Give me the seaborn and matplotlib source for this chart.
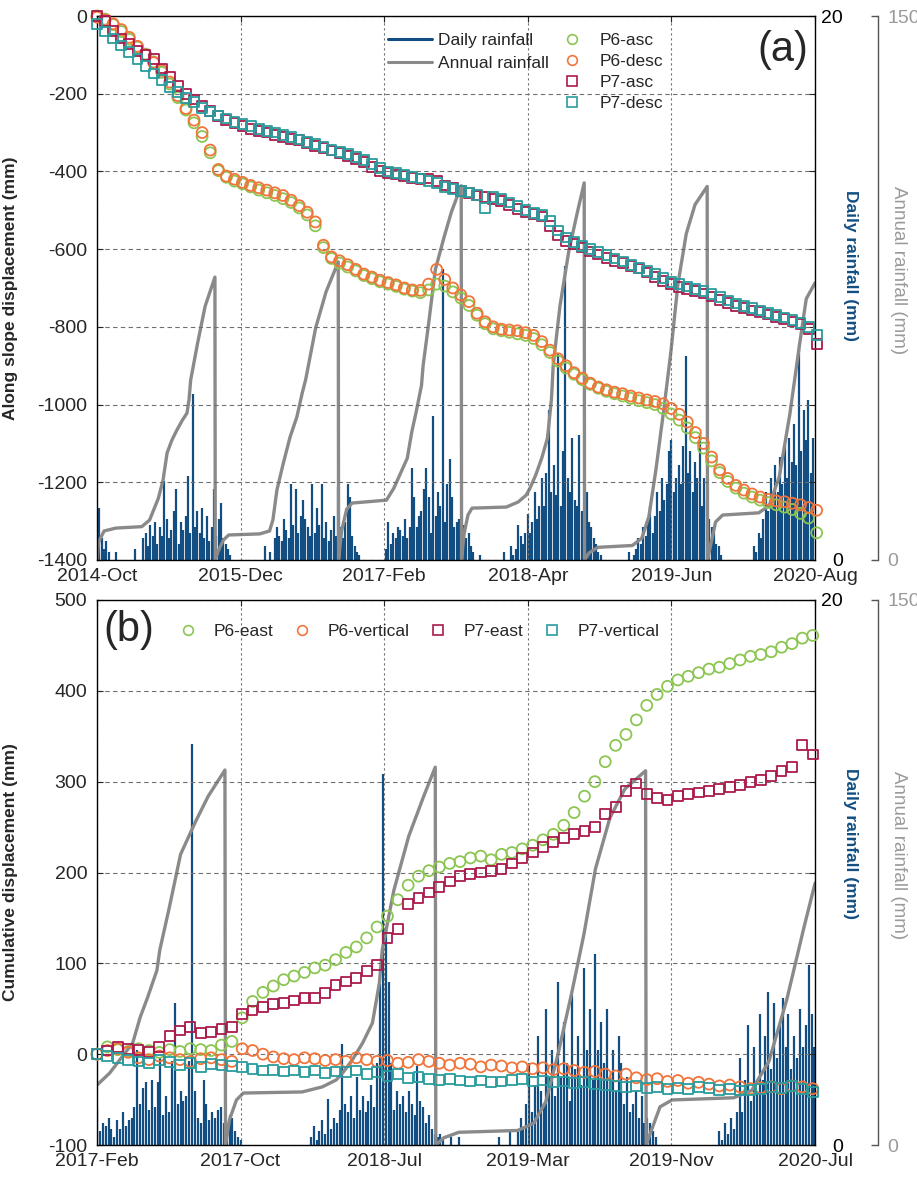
import numpy as np
import pandas as pd
import matplotlib
matplotlib.use("Agg")
import matplotlib.pyplot as plt
import matplotlib.dates as mdates
from matplotlib.lines import Line2D
import seaborn as sns

# ---------------------------------------------------------------- data
# (a) along-slope displacement (mm), InSAR epochs every 24 days
epochs_a = pd.date_range("2014-10-15", periods=90, freq="24D")
p6_asc = [0, -8, -22, -40, -60, -80, -98, -118, -145, -175,
          -210, -242, -275, -310, -352, -398, -415, -425, -432, -440,
          -448, -455, -462, -470, -480, -494, -512, -540, -596, -624,
          -636, -646, -656, -668, -676, -684, -690, -696, -703, -708,
          -712, -705, -690, -695, -710, -726, -745, -770, -792, -805,
          -810, -814, -818, -822, -830, -846, -866, -888, -906, -922,
          -936, -948, -958, -966, -972, -978, -984, -990, -995, -1000,
          -1010, -1024, -1040, -1060, -1085, -1112, -1145, -1175, -1198, -1215,
          -1228, -1238, -1246, -1252, -1258, -1264, -1270, -1280, -1292, -1330]
p6_desc = [-3, -10, -20, -35, -55, -78, -100, -120, -140, -170,
           -205, -238, -268, -300, -345, -395, -412, -420, -428, -436,
           -442, -448, -455, -462, -474, -488, -505, -530, -590, -620,
           -630, -640, -652, -664, -672, -680, -686, -692, -700, -705,
           -706, -690, -652, -678, -700, -718, -735, -765, -787, -800,
           -806, -808, -810, -815, -822, -838, -860, -882, -900, -918,
           -932, -945, -955, -962, -968, -972, -978, -983, -988, -992,
           -998, -1010, -1025, -1045, -1072, -1100, -1135, -1168, -1190, -1208,
           -1220, -1230, -1238, -1244, -1248, -1250, -1254, -1258, -1265, -1272]
p7_asc = [0, -12, -38, -58, -72, -90, -100, -110, -135, -158,
          -180, -200, -215, -232, -245, -258, -268, -276, -283, -290,
          -296, -300, -306, -312, -316, -320, -326, -334, -340, -346,
          -352, -360, -368, -376, -388, -398, -404, -408, -412, -416,
          -420, -418, -424, -436, -442, -450, -456, -462, -466, -470,
          -476, -486, -496, -504, -510, -516, -540, -565, -578, -586,
          -596, -606, -614, -622, -630, -636, -644, -650, -660, -672,
          -682, -690, -697, -702, -708, -714, -722, -730, -738, -746,
          -752, -758, -762, -768, -774, -780, -786, -792, -806, -845]
p7_desc = [-20, -40, -58, -76, -92, -110, -128, -148, -165, -182,
           -196, -210, -222, -236, -246, -256, -264, -272, -278, -284,
           -290, -296, -300, -306, -312, -318, -324, -330, -338, -344,
           -350, -356, -362, -370, -380, -392, -400, -404, -408, -414,
           -418, -424, -430, -440, -446, -450, -454, -460, -494, -466,
           -472, -480, -490, -500, -506, -512, -528, -552, -570, -582,
           -592, -600, -608, -616, -624, -632, -640, -648, -656, -664,
           -674, -684, -690, -696, -702, -708, -716, -724, -732, -740,
           -746, -752, -758, -764, -770, -776, -782, -790, -800, -822]

# (b) cumulative east / vertical displacement (mm), epochs every 18 days
epochs_b = pd.date_range("2017-02-20", periods=70, freq="18D")
p6_east = [0, 8, 5, 3, 6, 4, 2, 5, 3, 6,
           5, 4, 10, 14, 40, 58, 68, 75, 82, 86,
           90, 95, 98, 104, 112, 118, 128, 140, 152, 170,
           186, 196, 202, 206, 210, 212, 216, 218, 214, 220,
           222, 226, 230, 236, 242, 252, 266, 284, 300, 322,
           340, 352, 368, 384, 396, 405, 412, 416, 420, 424,
           426, 430, 434, 438, 440, 443, 448, 452, 458, 461]
p6_vert = [0, 4, 6, 2, -4, -6, -2, -4, -6, -8,
           -5, -4, -6, -8, 6, 4, 0, -3, -5, -6,
           -4, -5, -7, -6, -8, -4, -6, -8, -7, -10,
           -9, -6, -8, -10, -12, -10, -11, -14, -12, -13,
           -15, -14, -16, -15, -17, -16, -18, -20, -19, -22,
           -24, -22, -26, -28, -27, -30, -29, -32, -31, -33,
           -35, -34, -36, -38, -37, -36, -38, -35, -36, -38]
p7_east = [0, 4, 8, 6, 5, 2, 8, 20, 26, 30,
           23, 24, 28, 30, 44, 48, 52, 55, 56, 59,
           62, 62, 67, 76, 80, 84, 92, 98, 128, 138,
           165, 172, 178, 184, 190, 196, 198, 200, 202, 204,
           210, 216, 222, 228, 234, 238, 242, 246, 250, 264,
           272, 290, 298, 286, 282, 280, 284, 286, 288, 290,
           292, 294, 296, 300, 302, 306, 312, 316, 340, 330]
p7_vert = [0, -2, -4, -6, -8, -10, -6, -9, -12, -10,
           -14, -11, -12, -13, -14, -16, -18, -17, -19, -18,
           -20, -18, -21, -19, -20, -18, -22, -20, -24, -22,
           -26, -25, -27, -28, -27, -29, -30, -29, -31, -30,
           -28, -27, -30, -29, -31, -30, -32, -31, -33, -34,
           -35, -36, -35, -37, -36, -38, -37, -38, -36, -37,
           -39, -38, -40, -39, -38, -36, -37, -35, -38, -42]

# daily rainfall (mm): wet-season records as (first day, sampling step in days, values)
rain_a = [
    ("2014-10-15", 7, [1.7, 1.9, 0.8, 0.4, 0.7, 0.3, 0.0, 0.0, 0.3]),
    ("2015-02-05", 7, [0.4]),
    ("2015-03-01", 7, [0.8, 1.0, 0.5, 1.3, 0.9, 1.4, 0.6, 1.2, 0.9, 2.9,
                       1.5, 0.8, 1.1, 1.8, 2.6, 0.6, 1.4, 1.1, 1.6, 3.1,
                       1.0, 6.1, 1.2, 1.8, 1.0, 1.9, 0.8, 1.6, 0.7, 1.2,
                       2.6, 0.9, 1.5, 2.1, 0.8, 0.6, 0.4, 0.2]),
    ("2016-02-26", 7, [0.5, 0.0, 0.3, 0.0, 0.8, 1.2, 0.9, 0.7, 1.5, 1.1,
                       0.8, 2.8, 1.3, 2.6, 1.0, 1.6, 2.2, 1.5, 1.2, 0.9,
                       2.8, 1.0, 1.9, 1.3, 2.8, 0.8, 1.4, 0.7, 1.1, 1.6,
                       0.9, 2.7, 1.2, 0.8, 1.4, 2.8, 2.3, 0.9, 0.5, 0.3, 0.2]),
    ("2017-02-19", 7, [0.4, 1.4, 0.6, 1.0, 0.8, 1.2, 1.1, 0.9, 1.5, 0.8,
                       1.2, 3.4, 2.3, 1.2, 1.6, 1.8, 2.6, 3.4, 2.3, 1.0,
                       5.3, 1.6, 2.5, 2.0, 10.7, 1.4, 2.8, 3.7, 2.3, 1.2,
                       1.4, 1.5, 0.9, 1.3, 0.8, 1.0, 0.5, 0.3, 0.0, 0.0, 0.2]),
    ("2018-02-04", 7, [0.3, 0.0, 0.0, 0.5, 0.2, 0.4, 1.3, 0.9, 0.6, 1.0,
                       1.7, 1.0, 1.4, 2.5, 1.5, 2.0, 3.0, 2.0, 3.2, 5.5,
                       2.5, 3.5, 2.4, 7.6, 2.0, 4.0, 10.8, 3.0, 2.5, 4.5,
                       2.2, 2.0, 4.6, 1.8, 1.5, 2.5, 1.4, 1.2, 0.8, 0.6,
                       0.3, 0.2]),
    ("2019-02-10", 7, [0.3, 0.0, 0.2, 0.4, 0.8, 0.6, 1.2, 0.9, 1.4, 2.0,
                       1.0, 1.6, 2.5, 1.8, 3.0, 2.2, 2.8, 4.0, 4.4, 2.5,
                       3.0, 3.5, 2.8, 4.2, 7.5, 3.2, 4.0, 2.5, 3.6, 3.0,
                       4.6, 2.0, 3.0, 2.2, 1.5, 1.2, 1.0, 0.6, 0.5, 0.2]),
    ("2020-02-16", 7, [0.5, 0.3, 1.0, 0.8, 1.5, 2.5, 1.8, 3.0, 2.2, 3.5,
                       2.5, 3.8, 2.8, 4.2, 3.0, 4.5, 3.6, 5.0, 3.5, 7.9,
                       4.0, 5.5, 4.4, 5.9, 3.2, 4.5]),
]
rain_b = [
    ("2017-02-20", 5, [1.4, 0.5, 0.8, 0.7, 1.0, 0.6, 0.3, 0.9, 0.6, 1.2,
                       0.7, 0.9, 1.0, 1.4, 3.5, 1.5, 2.1, 2.3, 1.3, 2.4,
                       1.4, 2.3, 3.2, 1.1, 1.8, 1.2, 3.1, 5.2, 1.5, 2.0,
                       1.6, 1.8, 3.1, 14.7, 2.0, 1.0, 0.8, 2.4, 1.5, 0.9,
                       1.2, 1.0, 1.3, 1.4, 0.8, 0.6, 1.1, 1.0, 0.5, 0.3, 0.2]),
    ("2018-02-26", 5, [0.3, 0.7, 0.2, 0.5, 0.9, 0.4, 1.7, 0.6, 1.0, 0.8,
                       1.3, 3.7, 1.5, 1.2, 1.8, 1.0, 2.5, 1.3, 1.8, 1.2,
                       1.6, 2.2, 1.4, 3.0, 5.9, 13.6, 8.0, 6.0, 3.0, 1.3,
                       2.0, 1.5, 1.8, 1.2, 2.0, 1.5, 1.1, 2.9, 1.6, 1.4,
                       0.8, 1.1, 0.6, 0.4, 0.3, 0.4, 0.2]),
    ("2018-10-28", 14, [0.3, 0.3]),
    ("2019-01-19", 18, [0.3, 0.5]),
    ("2019-02-20", 5, [0.5, 1.0, 0.6, 1.5, 3.0, 1.2, 2.2, 4.0, 2.0, 1.4,
                       5.0, 2.5, 3.5, 1.8, 6.0, 2.5, 4.5, 3.0, 1.6, 5.5,
                       2.8, 4.0, 2.2, 6.5, 3.5, 5.0, 2.4, 7.0, 3.5, 4.5,
                       3.0, 5.0, 2.5, 3.5, 2.0, 4.0, 3.0, 1.5, 2.5, 1.2,
                       1.5, 2.0, 1.0, 1.8, 0.8, 1.0, 0.8, 0.5, 0.3]),
    ("2020-02-05", 5, [0.5, 0.2, 0.8, 0.4, 1.0, 0.6, 1.2, 3.2, 1.2, 2.4,
                       4.4, 1.6, 3.6, 2.0, 4.8, 2.4, 4.0, 5.6, 2.8, 5.2,
                       3.2, 4.4, 5.4, 3.6, 4.8, 2.8, 4.0, 3.2, 5.0, 3.6,
                       4.4, 6.6, 4.8, 3.6]),
]

# cumulative rainfall within each hydrological year (mm), resets on 1 October
annual_rain = [
    ("2014-10-15", 0), ("2014-10-20", 50), ("2014-11-05", 80), ("2014-12-10", 88),
    ("2015-02-25", 92), ("2015-03-20", 110), ("2015-04-15", 170), ("2015-04-29", 220),
    ("2015-05-11", 295), ("2015-05-25", 330), ("2015-06-09", 358), ("2015-06-25", 385),
    ("2015-07-09", 405), ("2015-07-15", 441), ("2015-07-20", 496), ("2015-08-10", 600),
    ("2015-09-01", 700), ("2015-09-30", 780), ("2015-10-01", 0),
    ("2015-10-10", 25), ("2015-10-25", 55), ("2015-11-10", 69), ("2016-02-10", 72),
    ("2016-03-10", 80), ("2016-03-20", 110), ("2016-04-01", 193), ("2016-04-20", 267),
    ("2016-05-10", 339), ("2016-05-30", 394), ("2016-06-15", 460), ("2016-06-25", 496),
    ("2016-07-25", 640), ("2016-08-25", 740), ("2016-09-30", 822), ("2016-10-01", 0),
    ("2016-10-10", 80), ("2016-10-25", 140), ("2016-11-10", 157), ("2017-02-20", 165),
    ("2017-03-14", 198), ("2017-04-23", 281), ("2017-05-06", 352), ("2017-05-19", 407),
    ("2017-06-04", 481), ("2017-06-09", 537), ("2017-06-25", 650), ("2017-07-15", 800),
    ("2017-08-10", 890), ("2017-09-01", 960), ("2017-09-30", 1032), ("2017-10-01", 0),
    ("2017-10-08", 70), ("2017-10-20", 124), ("2017-11-01", 143), ("2018-02-11", 146),
    ("2018-03-18", 160), ("2018-04-11", 179), ("2018-04-22", 198), ("2018-05-09", 234),
    ("2018-05-27", 281), ("2018-06-13", 336), ("2018-06-25", 446), ("2018-06-30", 537),
    ("2018-07-20", 700), ("2018-08-15", 850), ("2018-09-10", 960), ("2018-09-30", 1040),
    ("2018-10-01", 0),
    ("2018-10-15", 20), ("2018-11-10", 35), ("2019-02-20", 40), ("2019-03-20", 60),
    ("2019-04-10", 120), ("2019-05-01", 250), ("2019-05-25", 420), ("2019-06-15", 580),
    ("2019-07-05", 760), ("2019-07-30", 900), ("2019-08-25", 980), ("2019-09-30", 1030),
    ("2019-10-01", 0),
    ("2019-10-10", 40), ("2019-10-25", 105), ("2019-11-15", 124), ("2020-03-01", 130),
    ("2020-04-01", 150), ("2020-05-01", 230), ("2020-06-01", 400), ("2020-07-01", 600),
    ("2020-07-20", 720), ("2020-08-15", 764),
]

ticks_a = ["2014-Oct", "2015-Dec", "2017-Feb", "2018-Apr", "2019-Jun", "2020-Aug"]
ticks_b = ["2017-Feb", "2017-Oct", "2018-Jul", "2019-Mar", "2019-Nov", "2020-Jul"]
range_a = ("2014-10-15", "2020-08-15")
range_b = ("2017-02-20", "2020-07-20")

# ---------------------------------------------------------------- style
sns.set_style("white")
plt.rcParams["font.family"] = ["Liberation Sans", "DejaVu Sans"]
plt.rcParams["axes.unicode_minus"] = False

C_GREEN = "#8cc652"
C_ORANGE = "#f2743a"
C_RED = "#ab1a4c"
C_TEAL = "#2a9c9e"
C_RAIN = "#134e82"
C_ANNUAL = "#8a8a8a"
TICK_FS = 14
LAB_FS = 12.5
LEG_FS = 12.5

fig = plt.figure(figsize=(9.17, 11.78), dpi=100)
W, H = 917.0, 1178.0


def expand(records):
    dates, vals = [], []
    for start, step, values in records:
        d0 = pd.Timestamp(start)
        for i, v in enumerate(values):
            dates.append(d0 + pd.Timedelta(days=step * i))
            vals.append(v)
    return pd.DatetimeIndex(dates), vals


def panel(rect, series, epochs, rain, xr, xlabels, ylim, yticks, ylabel, tag, tag_xy,
          tag_ha, daily_lab_y, annual_lab_y):
    ax = fig.add_axes(rect)
    ax_d = ax.twinx()
    ax_y = ax.twinx()
    ax_d.set_zorder(1)
    ax_y.set_zorder(2)
    ax.set_zorder(3)
    ax.patch.set_visible(False)
    ax_y.patch.set_visible(False)

    # daily rainfall bars
    rd, rv = expand(rain)
    ax_d.vlines(rd, 0, rv, color=C_RAIN, lw=1.6)
    ax_d.set_ylim(0, 20)
    ax_d.set_yticks([0, 20])
    ax_d.tick_params(axis="y", direction="in", length=0, pad=20, labelsize=TICK_FS,
                     labelcolor="black")
    for t in ax_d.get_yticklabels():
        t.set_ha("right")
    ax_d.set_ylabel("Daily rainfall (mm)", color=C_RAIN, fontsize=LAB_FS,
                    fontweight="bold", rotation=-90)
    ax_d.yaxis.set_label_coords((850 - 97) / 718, daily_lab_y)
    ax_d.yaxis.label.set_va("center")
    ax_d.yaxis.label.set_ha("center")
    for s in ax_d.spines.values():
        s.set_visible(False)

    # cumulative annual rainfall
    ad = pd.to_datetime([d for d, _ in annual_rain])
    av = [v for _, v in annual_rain]
    sns.lineplot(x=ad, y=av, sort=False, estimator=None, color=C_ANNUAL, lw=2.4,
                 ax=ax_y)
    ax_y.set_ylim(0, 1500)
    ax_y.set_yticks([0, 1500])
    for k in ("top", "bottom", "left"):
        ax_y.spines[k].set_visible(False)
    ax_y.spines["right"].set_position(("outward", 45))
    ax_y.spines["right"].set_color("#555555")
    ax_y.spines["right"].set_linewidth(1.0)
    ax_y.tick_params(axis="y", direction="in", length=5, width=1.0, color="#555555",
                     pad=7, labelsize=TICK_FS, labelcolor="#9a9a9a")
    ax_y.set_ylabel("Annual rainfall (mm)", color="#9a9a9a", fontsize=13.5,
                    rotation=-90)
    ax_y.yaxis.set_label_coords((898 - 97) / 718, annual_lab_y)
    ax_y.yaxis.label.set_va("center")
    ax_y.yaxis.label.set_ha("center")

    # displacement markers
    for vals, marker, col, size in series:
        sns.scatterplot(x=epochs, y=vals, marker=marker, s=size, facecolor="none",
                        edgecolor=col, linewidth=1.3, ax=ax, clip_on=False, zorder=4)

    x0, x1 = pd.Timestamp(xr[0]), pd.Timestamp(xr[1])
    ax.set_xlim(x0, x1)
    n0, n1 = mdates.date2num(x0), mdates.date2num(x1)
    ax.set_xticks(np.linspace(n0, n1, len(xlabels)))
    ax.set_xticklabels(xlabels)
    ax.set_ylim(*ylim)
    ax.set_yticks(yticks)
    ax.set_yticklabels([str(v) for v in yticks])
    ax.set_xlabel("")
    ax.set_ylabel(ylabel, fontsize=LAB_FS, fontweight="bold")
    ax.yaxis.set_label_coords((18 - 97) / 718, 0.5)
    ax.tick_params(axis="both", direction="in", length=4, width=0.8, labelsize=TICK_FS,
                   top=True, right=True, pad=7)
    ax.tick_params(axis="x", pad=6)
    for s in ax.spines.values():
        s.set_visible(True)
        s.set_color("black")
        s.set_linewidth(1.0)
    ax.yaxis.grid(True, color="#6f6f6f", lw=0.8, ls=(0, (4, 3)))
    ax.xaxis.grid(True, color="#6f6f6f", lw=0.8, ls=(0, (2, 2.5)))
    ax.text(tag_xy[0], tag_xy[1], tag, transform=ax.transAxes, fontsize=30,
            ha=tag_ha, va="center")
    return ax


def rect(top, bottom):
    return [97 / W, 1 - bottom / H, 718 / W, (bottom - top) / H]


ax1 = panel(rect(16, 560),
            [(p6_asc, "o", C_GREEN, 62), (p6_desc, "o", C_ORANGE, 62),
             (p7_asc, "s", C_RED, 50), (p7_desc, "s", C_TEAL, 50)],
            epochs_a, rain_a, range_a, ticks_a, (-1400, 0),
            list(range(-1400, 1, 200)), "Along slope displacement (mm)",
            "(a)", ((808 - 97) / 718, (560 - 50) / 544), "right", 0.542, 0.533)

ax2 = panel(rect(600, 1145),
            [(p6_east, "o", C_GREEN, 62), (p6_vert, "o", C_ORANGE, 62),
             (p7_east, "s", C_RED, 50), (p7_vert, "s", C_TEAL, 50)],
            epochs_b, rain_b, range_b, ticks_b, (-100, 500),
            list(range(-100, 501, 100)), "Cumulative displacement (mm)",
            "(b)", ((103 - 97) / 718, (1145 - 630) / 545), "left", 0.554, 0.532)


def mk(marker, col, label):
    return Line2D([], [], ls="none", marker=marker, ms=7, mfc="none", mec=col,
                  mew=1.2, label=label)


em = LEG_FS * 100 / 72.0
# rainfall entries of the top legend
h_lines = [Line2D([], [], color=C_RAIN, lw=2.2, label="Daily rainfall"),
           Line2D([], [], color=C_ANNUAL, lw=2.2, label="Annual rainfall")]
leg1 = ax1.legend(handles=h_lines, frameon=False, fontsize=LEG_FS, loc="upper left",
                  bbox_to_anchor=((388 - 97) / 718, (560 - 33) / 544), borderaxespad=0,
                  borderpad=0, handlelength=44 / em, handletextpad=6 / em,
                  labelspacing=0.42)
ax1.add_artist(leg1)
h_a = [mk("o", C_GREEN, "P6-asc"), mk("o", C_ORANGE, "P6-desc"),
       mk("s", C_RED, "P7-asc"), mk("s", C_TEAL, "P7-desc")]
ax1.legend(handles=h_a, frameon=False, fontsize=LEG_FS, loc="upper left",
           bbox_to_anchor=((562 - 97) / 718, (560 - 33) / 544), borderaxespad=0,
           borderpad=0, handlelength=20 / em, handletextpad=18 / em,
           labelspacing=0.34)

h_b = [mk("o", C_GREEN, "P6-east"), mk("o", C_ORANGE, "P6-vertical"),
       mk("s", C_RED, "P7-east"), mk("s", C_TEAL, "P7-vertical")]
ax2.legend(handles=h_b, ncol=4, frameon=False, fontsize=LEG_FS, loc="upper left",
           bbox_to_anchor=((178 - 97) / 718, (1145 - 624) / 545), borderaxespad=0,
           borderpad=0, handlelength=20 / em, handletextpad=16 / em,
           columnspacing=18 / em)

fig.savefig("out.png", dpi=100, facecolor="white")
